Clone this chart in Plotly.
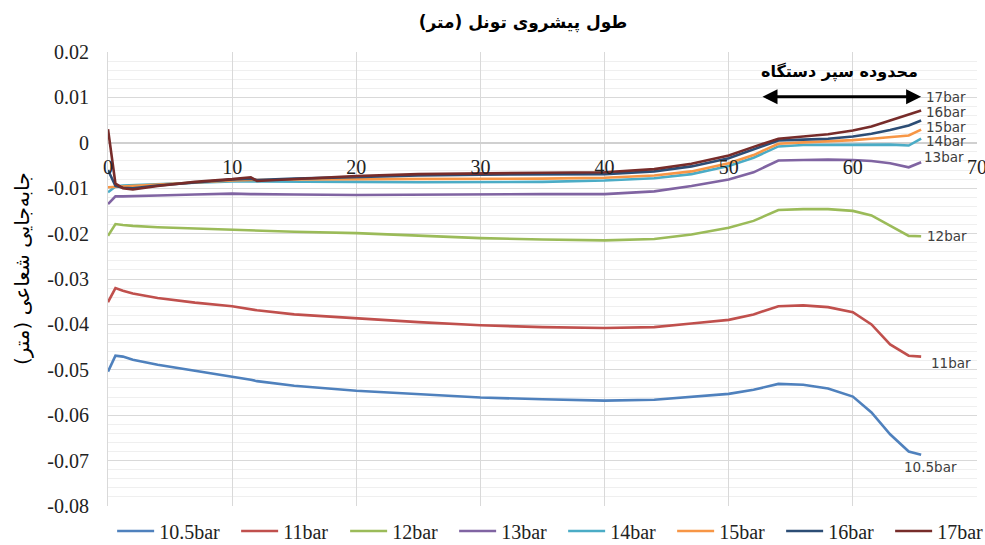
import plotly.graph_objects as go

# ---------------- data ----------------
advance_m = [0, 0.6, 1.2, 2, 4, 7, 10, 11.5, 12, 15, 20, 25, 30, 35, 40, 44, 47, 50,
             52, 54, 56, 58, 60, 61.5, 63, 64.5, 65.5]

series_names = ["10.5bar", "11bar", "12bar", "13bar", "14bar", "15bar", "16bar", "17bar"]

disp_10_5 = [-0.0504, -0.0469, -0.0471, -0.0478, -0.0489, -0.0502, -0.0514, -0.0522, -0.0525,
             -0.0535, -0.0546, -0.0554, -0.0561, -0.0565, -0.0568, -0.0566, -0.0560, -0.0553,
             -0.0544, -0.0531, -0.0533, -0.0541, -0.0559, -0.0594, -0.0642, -0.0680, -0.0687]
disp_11 = [-0.0351, -0.0320, -0.0326, -0.0332, -0.0342, -0.0352, -0.0360, -0.0367, -0.0369,
           -0.0378, -0.0387, -0.0395, -0.0402, -0.0406, -0.0408, -0.0406, -0.0398, -0.0390,
           -0.0378, -0.0360, -0.0358, -0.0362, -0.0373, -0.0400, -0.0444, -0.0469, -0.0471]
disp_12 = [-0.0205, -0.0179, -0.0181, -0.0183, -0.0186, -0.0189, -0.0191, -0.0192, -0.0193,
           -0.0196, -0.0199, -0.0204, -0.0210, -0.0213, -0.0215, -0.0212, -0.0202, -0.0187,
           -0.0172, -0.0148, -0.0146, -0.0146, -0.0150, -0.0160, -0.0183, -0.0205, -0.0206]
disp_13 = [-0.0135, -0.0118, -0.0118, -0.0117, -0.0116, -0.0114, -0.0112, -0.0113, -0.0113,
           -0.0114, -0.0115, -0.0114, -0.0113, -0.0113, -0.0113, -0.0107, -0.0095, -0.0081,
           -0.0065, -0.0039, -0.0038, -0.0037, -0.0038, -0.0040, -0.0045, -0.0054, -0.0043]
disp_14 = [-0.0109, -0.0096, -0.0094, -0.0093, -0.0091, -0.0088, -0.0085, -0.0085, -0.0085,
           -0.0086, -0.0086, -0.0087, -0.0087, -0.0086, -0.0083, -0.0078, -0.0069, -0.0051,
           -0.0033, -0.0008, -0.0005, -0.0005, -0.0005, -0.0005, -0.0004, -0.0006, 0.0009]
disp_15 = [-0.0098, -0.0097, -0.0097, -0.0095, -0.0092, -0.0087, -0.0083, -0.0082, -0.0082,
           -0.0081, -0.0080, -0.0080, -0.0080, -0.0079, -0.0077, -0.0072, -0.0063, -0.0045,
           -0.0027, -0.0002, 0.0001, 0.0003, 0.0006, 0.0009, 0.0013, 0.0016, 0.0029]
disp_16 = [-0.0060, -0.0095, -0.0099, -0.0100, -0.0094, -0.0087, -0.0081, -0.0079, -0.0082,
           -0.0079, -0.0075, -0.0072, -0.0070, -0.0070, -0.0069, -0.0063, -0.0052, -0.0034,
           -0.0015, 0.0005, 0.0007, 0.0009, 0.0014, 0.0020, 0.0028, 0.0038, 0.0049]
disp_17 = [0.0030, -0.0090, -0.0100, -0.0103, -0.0095, -0.0086, -0.0080, -0.0076, -0.0084,
           -0.0080, -0.0073, -0.0069, -0.0067, -0.0066, -0.0065, -0.0058, -0.0046, -0.0028,
           -0.0009, 0.0009, 0.0014, 0.0019, 0.0027, 0.0036, 0.0049, 0.0062, 0.0071]

all_series = [disp_10_5, disp_11, disp_12, disp_13, disp_14, disp_15, disp_16, disp_17]

title_text = "طول پیشروی تونل (متر)"
y_title_text = "جابه\u200cجایی شعاعی (متر)"
shield_text = "محدوده سپر دستگاه"

x_ticks = [0, 10, 20, 30, 40, 50, 60, 70]
y_ticks = [0.02, 0.01, 0, -0.01, -0.02, -0.03, -0.04, -0.05, -0.06, -0.07, -0.08]
y_tick_labels = ["0.02", "0.01", "0", "-0.01", "-0.02", "-0.03", "-0.04", "-0.05", "-0.06", "-0.07", "-0.08"]

# ---------------- styling ----------------
colors = ["#4F81BD", "#C0504D", "#9BBB59", "#8064A2", "#4BACC6", "#F79646", "#2C4D75", "#772C2A"]
serif = "Liberation Serif, Times New Roman, DejaVu Serif, serif"
sans = "DejaVu Sans"

fig = go.Figure()
for i, (name, vals, col) in enumerate(zip(series_names, all_series, colors)):
    fig.add_trace(go.Scatter(x=advance_m, y=vals, mode="lines", name=name,
                             legendwidth=72 if i == 0 else 57,
                             line=dict(color=col, width=2.6)))

# labels at the right end of each curve (x, y)
label_pos = {
    "17bar": (65.74, 0.01015), "16bar": (65.74, 0.00684), "15bar": (65.74, 0.00352),
    "14bar": (65.74, 0.00042), "13bar": (65.58, -0.0031), "12bar": (65.82, -0.0206),
    "11bar": (66.14, -0.0485), "10.5bar": (63.97, -0.0715),
}
annotations = []
for name in series_names:
    lx, ly = label_pos[name]
    annotations.append(dict(x=lx, y=ly, xref="x", yref="y", text=name, showarrow=False,
                            xanchor="left", yanchor="middle",
                            font=dict(family=sans, size=13.5, color="#404040")))

# double-headed arrow for the shield zone
annotations.append(dict(x=65.5, y=0.01015, ax=52.6, ay=0.01015, xref="x", yref="y",
                        axref="x", ayref="y", text="", showarrow=True,
                        arrowhead=2, startarrowhead=2, arrowside="end+start",
                        arrowsize=1, startarrowsize=1, arrowwidth=3, arrowcolor="#000000"))
annotations.append(dict(x=58.9, y=0.0157, xref="x", yref="y", text="<b>" + shield_text + "</b>",
                        showarrow=False, xanchor="center", yanchor="middle",
                        font=dict(family=sans, size=16, color="#000000")))
# y-axis title
annotations.append(dict(x=-0.099, y=0.524, xref="paper", yref="paper", text=y_title_text,
                        textangle=-90, showarrow=False, xanchor="center", yanchor="middle",
                        font=dict(family=sans, size=20, color="#000000")))

fig.update_layout(
    width=985, height=545,
    margin=dict(l=108, r=8, t=52, b=39, autoexpand=False),
    paper_bgcolor="white", plot_bgcolor="white",
    title=dict(text="<b>" + title_text + "</b>", x=0.4776, xref="paper", xanchor="center",
               y=1 - 22 / 545, yref="container", yanchor="middle",
               font=dict(family=sans, size=17, color="#000000")),
    showlegend=True,
    legend=dict(orientation="h", x=-0.001, xanchor="left", y=-0.055, yanchor="middle",
                font=dict(family=serif, size=20, color="#222222"),
                itemwidth=37, tracegroupgap=0, bgcolor="rgba(0,0,0,0)",
                borderwidth=5, bordercolor="rgba(0,0,0,0)"),
    annotations=annotations,
    xaxis=dict(range=[0, 70], tickmode="array", tickvals=x_ticks,
               ticktext=[str(v) for v in x_ticks],
               anchor="free", position=0.8, showline=False, ticks="",
               ticklabelstandoff=10, ticklabeloverflow="allow", automargin=False,
               showgrid=True, gridcolor="#d9d9d9", gridwidth=1, zeroline=False,
               tickfont=dict(family=serif, size=20, color="#222222")),
    yaxis=dict(range=[-0.08, 0.02], tickmode="array", tickvals=y_ticks, ticktext=y_tick_labels,
               showgrid=True, gridcolor="#d9d9d9", gridwidth=1,
               zeroline=True, zerolinecolor="#d0d0d0", zerolinewidth=1.5,
               showline=True, linecolor="#d9d9d9", linewidth=1, ticks="",
               ticklabelstandoff=14, automargin=False,
               minor=dict(dtick=0.002, tick0=0, showgrid=True, gridcolor="#efefef", gridwidth=1),
               tickfont=dict(family=serif, size=20, color="#222222")),
)

fig.write_html("out.html", config={"displayModeBar": False},
               post_script="document.body.style.margin='0';document.body.style.overflow='hidden';")
